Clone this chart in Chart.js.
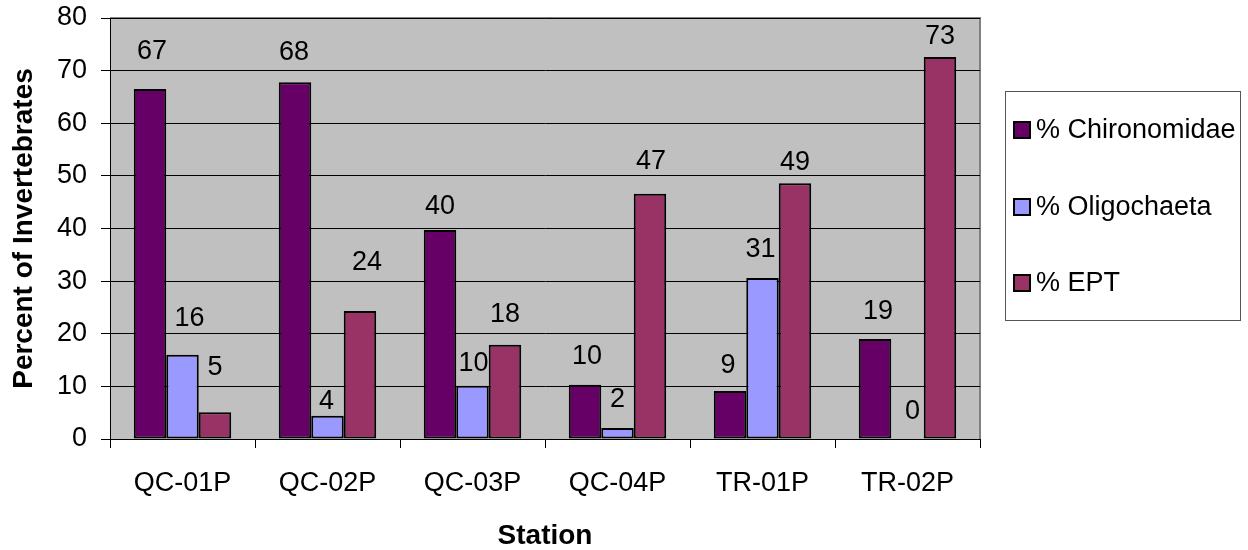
<!DOCTYPE html>
<html>
<head>
<meta charset="utf-8">
<title>Percent of Invertebrates by Station</title>
<script src="https://cdn.jsdelivr.net/npm/chart.js@4/dist/chart.umd.min.js"></script>
<style>
  html, body { margin: 0; padding: 0; background: #ffffff; }
  #wrap { width: 1248px; height: 550px; }
</style>
</head>
<body>
<div id="wrap"><canvas id="chart" width="1248" height="550"></canvas></div>
<script>
// Stations sampled
const stations = ['QC-01P', 'QC-02P', 'QC-03P', 'QC-04P', 'TR-01P', 'TR-02P'];

// Percent of invertebrates per group at each station
const pctChironomidae = [66.5, 67.8, 39.7, 10.3, 9.1, 19.0];
const pctOligochaeta  = [16.0, 4.4, 10.1, 2.1, 30.6, 0];
const pctEPT          = [5.1, 24.3, 17.9, 46.6, 48.6, 72.6];

// Y axis ticks
const yTicks = [0, 10, 20, 30, 40, 50, 60, 70, 80];

// Value-label placement: lift above the bar top and sideways nudge (px)
const labelLift = [
  [37, 30, 24, 28, 26, 27],
  [36, 14, 22, 28, 28, 27],
  [45, 49, 30, 32, 21, 20]
];
const labelShift = [
  [2, -1, 0, 2, -2, 3],
  [7, -1, 1, 0, -2, 5],
  [0, 7, 0, 1, 0, 0]
];

const FONT = "'Liberation Sans', Arial, sans-serif";

// Grey plot area with a grey frame on top and right
const plotBackground = {
  id: 'plotBackground',
  beforeDraw(chart) {
    const { ctx, chartArea: a } = chart;
    ctx.save();
    ctx.fillStyle = '#C0C0C0';
    ctx.fillRect(a.left, a.top, a.right - a.left, a.bottom - a.top);
    ctx.strokeStyle = '#808080';
    ctx.lineWidth = 2;
    ctx.beginPath();
    ctx.moveTo(a.left, a.top);
    ctx.lineTo(a.right, a.top);
    ctx.lineTo(a.right, a.bottom);
    ctx.stroke();
    ctx.restore();
  }
};

// Rounded value written above each bar
const valueLabels = {
  id: 'valueLabels',
  afterDatasetsDraw(chart) {
    const { ctx } = chart;
    ctx.save();
    ctx.font = '27px ' + FONT;
    ctx.fillStyle = '#000000';
    ctx.textAlign = 'center';
    ctx.textBaseline = 'middle';
    chart.data.datasets.forEach((ds, di) => {
      const meta = chart.getDatasetMeta(di);
      meta.data.forEach((bar, i) => {
        const v = ds.data[i];
        ctx.fillText(String(Math.round(v)), bar.x + labelShift[di][i], bar.y - labelLift[di][i]);
      });
    });
    ctx.restore();
  }
};

// Boxed legend to the right of the plot
const boxedLegend = {
  id: 'boxedLegend',
  afterDraw(chart) {
    const { ctx } = chart;
    const box = { x: 1005, y: 91, w: 235, h: 229 };
    const rows = [130, 207, 283];
    ctx.save();
    ctx.fillStyle = '#ffffff';
    ctx.fillRect(box.x, box.y, box.w, box.h);
    ctx.strokeStyle = '#555555';
    ctx.lineWidth = 1;
    ctx.strokeRect(box.x + 0.5, box.y + 0.5, box.w, box.h);
    ctx.font = '27px ' + FONT;
    ctx.textAlign = 'left';
    ctx.textBaseline = 'middle';
    chart.data.datasets.forEach((ds, i) => {
      const cy = rows[i];
      ctx.fillStyle = ds.backgroundColor;
      ctx.fillRect(1014, cy - 8, 16, 16);
      ctx.strokeStyle = '#000000';
      ctx.lineWidth = 2;
      ctx.strokeRect(1014, cy - 8, 16, 16);
      ctx.fillStyle = '#000000';
      ctx.fillText(ds.label, 1036, cy + 1);
    });
    ctx.restore();
  }
};

const barStyle = { borderColor: '#000000', borderWidth: 2, borderSkipped: false,
                   categoryPercentage: 0.672, barPercentage: 1.0 };

new Chart(document.getElementById('chart'), {
  type: 'bar',
  data: {
    labels: stations,
    datasets: [
      Object.assign({ label: '% Chironomidae', data: pctChironomidae, backgroundColor: '#660066' }, barStyle),
      Object.assign({ label: '% Oligochaeta',  data: pctOligochaeta,  backgroundColor: '#9999FF' }, barStyle),
      Object.assign({ label: '% EPT',          data: pctEPT,          backgroundColor: '#993366' }, barStyle)
    ]
  },
  options: {
    responsive: false,
    animation: false,
    devicePixelRatio: 1,
    layout: { padding: { left: 0, top: 18, right: 268, bottom: 0 } },
    plugins: {
      legend: { display: false },
      tooltip: { enabled: false }
    },
    scales: {
      x: {
        afterFit(s) { s.height = 111; s.paddingLeft = 0; s.paddingRight = 0; },
        grid: { offset: true, drawOnChartArea: false, drawTicks: true, tickLength: 9, color: '#000000', lineWidth: 1 },
        border: { color: '#000000', width: 1 },
        ticks: { color: '#000000', font: { family: FONT, size: 27 }, padding: 19, maxRotation: 0 },
        title: { display: true, text: 'Station', color: '#000000', font: { family: FONT, size: 28, weight: 'bold', lineHeight: 1.0 }, padding: { top: 0, bottom: 0 } }
      },
      y: {
        min: 0,
        max: 80,
        afterFit(s) { s.width = 110; s.paddingTop = 0; s.paddingBottom = 0; },
        afterBuildTicks(s) { s.ticks = yTicks.map(v => ({ value: v })); },
        grid: { color: '#000000', lineWidth: 1, tickLength: 9, drawTicks: true },
        border: { color: '#000000', width: 1 },
        ticks: { color: '#000000', font: { family: FONT, size: 27 }, padding: 14 },
        title: { display: true, text: 'Percent of Invertebrates', color: '#000000', font: { family: FONT, size: 28, weight: 'bold' }, padding: { top: 7, bottom: 0 } }
      }
    }
  },
  plugins: [plotBackground, valueLabels, boxedLegend]
});
</script>
</body>
</html>
